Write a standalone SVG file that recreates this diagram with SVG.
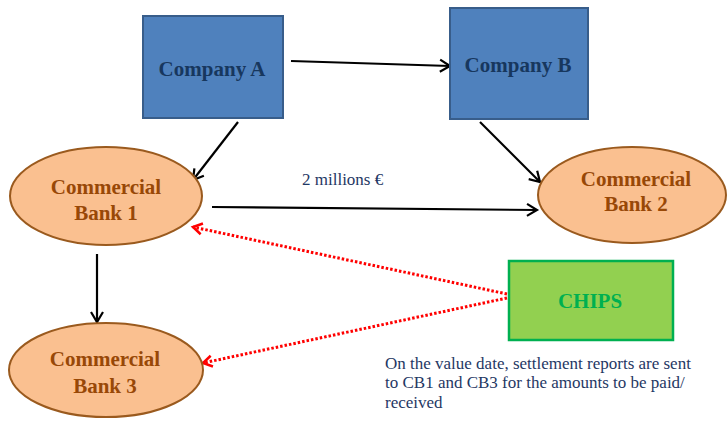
<svg xmlns="http://www.w3.org/2000/svg" width="728" height="426" viewBox="0 0 728 426">
<defs>
<marker id="ab" markerUnits="userSpaceOnUse" markerWidth="16" markerHeight="16" refX="13" refY="8" orient="auto" viewBox="0 0 16 16">
<path d="M3,2 L13,8 L3,14" fill="none" stroke="#000" stroke-width="2.2" stroke-linejoin="miter"/>
</marker>
<marker id="ar" markerUnits="userSpaceOnUse" markerWidth="16" markerHeight="16" refX="13" refY="8" orient="auto" viewBox="0 0 16 16">
<path d="M4,2.5 L13,8 L4,13.5" fill="none" stroke="#ff0000" stroke-width="2.5"/>
</marker>
</defs>
<style>
.co{fill:#4f81bd;stroke:#385d8a;stroke-width:2}
.ct{font-family:"Liberation Serif","Times New Roman",serif;font-weight:bold;font-size:21px;fill:#17375e;text-anchor:middle}
.bk{fill:#fac090;stroke:#9a5a1e;stroke-width:2}
.bt{font-family:"Liberation Serif","Times New Roman",serif;font-weight:bold;font-size:21px;fill:#984807;text-anchor:middle}
.ch{fill:#92d050;stroke:#00b050;stroke-width:2.5}
.cht{font-family:"Liberation Serif","Times New Roman",serif;font-weight:bold;font-size:21px;fill:#00b050;text-anchor:middle}
.lbl{font-family:"Liberation Serif","Times New Roman",serif;font-size:17px;fill:#1f3864}
.k{stroke:#000;stroke-width:2.2;fill:none;marker-end:url(#ab)}
.r{stroke:#ff0000;stroke-width:3;fill:none;stroke-dasharray:2.5 2;marker-end:url(#ar)}
</style>
<rect width="728" height="426" fill="#fff"/>
<g id="connectors">
<line class="k" x1="291" y1="61" x2="450" y2="66"/>
<line class="k" x1="238" y1="122" x2="193" y2="180"/>
<line class="k" x1="480" y1="122" x2="540" y2="182"/>
<line class="k" x1="212" y1="207" x2="537" y2="210"/>
<line class="k" x1="97" y1="254" x2="97" y2="322"/>
<line class="r" x1="507" y1="294" x2="193" y2="227"/>
<line class="r" x1="507" y1="298" x2="203" y2="363"/>
</g>
<g id="companyA">
<rect class="co" x="143" y="16" width="140" height="102"/>
<text class="ct" x="212" y="76">Company A</text>
</g>
<g id="companyB">
<rect class="co" x="450" y="8" width="138" height="111"/>
<text class="ct" x="518" y="72">Company B</text>
</g>
<g id="bank1">
<ellipse class="bk" cx="106" cy="196" rx="96" ry="49"/>
<text class="bt" x="106" y="194">Commercial</text>
<text class="bt" x="106" y="220">Bank 1</text>
</g>
<g id="bank2">
<ellipse class="bk" cx="632" cy="195" rx="94" ry="48"/>
<text class="bt" x="636" y="186">Commercial</text>
<text class="bt" x="636" y="211">Bank 2</text>
</g>
<g id="bank3">
<ellipse class="bk" cx="106" cy="370" rx="97" ry="47"/>
<text class="bt" x="105" y="366">Commercial</text>
<text class="bt" x="105" y="393">Bank 3</text>
</g>
<g id="chips">
<rect class="ch" x="509" y="261" width="164" height="79"/>
<text class="cht" x="590" y="308">CHIPS</text>
</g>
<g id="labels">
<text class="lbl" x="302" y="185">2 millions €</text>
<text class="lbl" x="385" y="369">On the value date, settlement reports are sent</text>
<text class="lbl" x="385" y="388">to CB1 and CB3 for the amounts to be paid/</text>
<text class="lbl" x="385" y="408">received</text>
</g>
</svg>
